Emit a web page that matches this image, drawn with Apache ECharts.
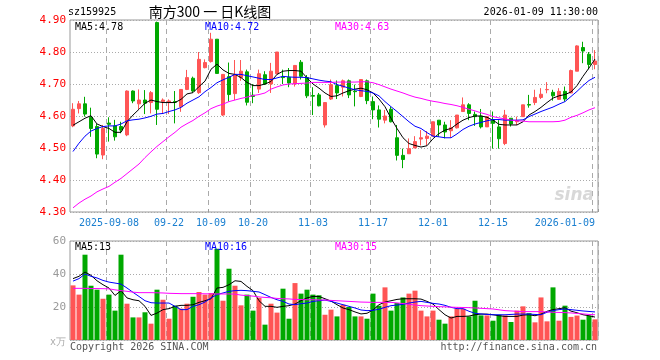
<!DOCTYPE html>
<html><head><meta charset="utf-8">
<script src="https://cdn.jsdelivr.net/npm/echarts/dist/echarts.min.js"></script>
<style>html,body{margin:0;padding:0;background:#fff}#c{width:660px;height:360px}</style>
</head><body><div id="c"></div><script>
const dates=['2025-08-29','2025-09-01','2025-09-02','2025-09-03','2025-09-04','2025-09-05','2025-09-08','2025-09-09','2025-09-10','2025-09-11','2025-09-12','2025-09-15','2025-09-16','2025-09-17','2025-09-18','2025-09-19','2025-09-22','2025-09-23','2025-09-24','2025-09-25','2025-09-26','2025-09-29','2025-09-30','2025-10-09','2025-10-10','2025-10-13','2025-10-14','2025-10-15','2025-10-16','2025-10-17','2025-10-20','2025-10-21','2025-10-22','2025-10-23','2025-10-24','2025-10-27','2025-10-28','2025-10-29','2025-10-30','2025-10-31','2025-11-03','2025-11-04','2025-11-05','2025-11-06','2025-11-07','2025-11-10','2025-11-11','2025-11-12','2025-11-13','2025-11-14','2025-11-17','2025-11-18','2025-11-19','2025-11-20','2025-11-21','2025-11-24','2025-11-25','2025-11-26','2025-11-27','2025-11-28','2025-12-01','2025-12-02','2025-12-03','2025-12-04','2025-12-05','2025-12-08','2025-12-09','2025-12-10','2025-12-11','2025-12-12','2025-12-15','2025-12-16','2025-12-17','2025-12-18','2025-12-19','2025-12-22','2025-12-23','2025-12-24','2025-12-25','2025-12-26','2025-12-29','2025-12-30','2025-12-31','2026-01-05','2026-01-06','2026-01-07','2026-01-08','2026-01-09'];
const labelDates=['2025-09-08','2025-09-22','2025-10-09','2025-10-20','2025-11-03','2025-11-17','2025-12-01','2025-12-15','2026-01-09'];
const labelTexts=['2025-09-08','09-22','10-09','10-20','11-03','11-17','12-01','12-15','2026-01-09'];
const priceTicks=[4.30,4.40,4.50,4.60,4.70,4.80,4.90];
const opens=[4.569,4.623,4.638,4.596,4.567,4.478,4.578,4.569,4.567,4.541,4.678,4.638,4.650,4.642,4.892,4.645,4.642,4.645,4.629,4.683,4.718,4.673,4.751,4.770,4.840,4.603,4.723,4.670,4.720,4.738,4.665,4.684,4.729,4.700,4.732,4.722,4.721,4.700,4.768,4.720,4.664,4.666,4.572,4.653,4.695,4.690,4.710,4.678,4.661,4.710,4.645,4.619,4.587,4.621,4.532,4.477,4.482,4.500,4.528,4.530,4.537,4.587,4.572,4.554,4.563,4.614,4.635,4.605,4.600,4.566,4.587,4.566,4.514,4.593,4.582,4.598,4.636,4.642,4.658,4.682,4.674,4.652,4.677,4.672,4.740,4.814,4.793,4.761];
const closes=[4.621,4.638,4.606,4.561,4.481,4.561,4.574,4.535,4.556,4.678,4.647,4.650,4.640,4.673,4.621,4.650,4.647,4.643,4.683,4.720,4.678,4.777,4.767,4.840,4.733,4.730,4.667,4.730,4.740,4.643,4.661,4.732,4.700,4.740,4.800,4.720,4.703,4.758,4.724,4.663,4.662,4.632,4.642,4.698,4.672,4.710,4.666,4.676,4.714,4.648,4.619,4.590,4.600,4.582,4.477,4.464,4.498,4.520,4.532,4.537,4.582,4.572,4.550,4.563,4.603,4.635,4.608,4.598,4.566,4.598,4.577,4.529,4.603,4.575,4.585,4.635,4.634,4.658,4.668,4.683,4.663,4.677,4.653,4.742,4.819,4.803,4.761,4.772];
const lows=[4.565,4.608,4.598,4.535,4.468,4.465,4.520,4.523,4.546,4.537,4.640,4.621,4.606,4.608,4.572,4.608,4.606,4.577,4.613,4.681,4.673,4.669,4.749,4.767,4.733,4.600,4.645,4.650,4.710,4.633,4.640,4.672,4.697,4.672,4.730,4.700,4.690,4.692,4.714,4.656,4.603,4.630,4.564,4.650,4.653,4.661,4.656,4.630,4.659,4.637,4.590,4.564,4.577,4.580,4.461,4.437,4.482,4.500,4.508,4.508,4.537,4.535,4.530,4.532,4.561,4.614,4.587,4.569,4.561,4.566,4.498,4.498,4.509,4.567,4.572,4.598,4.626,4.634,4.653,4.671,4.648,4.651,4.645,4.672,4.740,4.765,4.746,4.746];
const highs=[4.640,4.647,4.660,4.626,4.575,4.572,4.596,4.588,4.582,4.680,4.680,4.683,4.681,4.678,4.895,4.655,4.652,4.678,4.683,4.744,4.723,4.800,4.777,4.860,4.840,4.723,4.767,4.775,4.775,4.745,4.700,4.745,4.740,4.766,4.800,4.745,4.750,4.758,4.775,4.728,4.690,4.672,4.642,4.714,4.711,4.714,4.714,4.698,4.714,4.714,4.661,4.633,4.619,4.629,4.572,4.498,4.530,4.537,4.556,4.553,4.582,4.587,4.582,4.587,4.603,4.658,4.640,4.614,4.622,4.600,4.614,4.587,4.619,4.593,4.598,4.635,4.666,4.682,4.687,4.706,4.682,4.687,4.692,4.745,4.821,4.832,4.800,4.806];
const ma5=[4.571,4.582,4.593,4.601,4.575,4.567,4.561,4.549,4.549,4.582,4.603,4.621,4.640,4.650,4.645,4.642,4.642,4.642,4.652,4.669,4.673,4.692,4.709,4.746,4.762,4.744,4.733,4.730,4.720,4.705,4.695,4.695,4.700,4.708,4.730,4.740,4.742,4.742,4.740,4.719,4.700,4.687,4.672,4.661,4.663,4.672,4.679,4.684,4.687,4.682,4.672,4.653,4.629,4.593,4.561,4.532,4.514,4.508,4.503,4.507,4.529,4.545,4.556,4.561,4.575,4.587,4.595,4.600,4.600,4.596,4.587,4.574,4.572,4.572,4.572,4.582,4.603,4.614,4.627,4.642,4.656,4.663,4.667,4.675,4.695,4.724,4.750,4.778];
const ma10=[4.489,4.515,4.537,4.553,4.561,4.567,4.569,4.569,4.575,4.585,4.588,4.590,4.594,4.599,4.606,4.608,4.614,4.619,4.627,4.640,4.650,4.660,4.676,4.689,4.704,4.713,4.721,4.730,4.730,4.726,4.722,4.718,4.714,4.714,4.719,4.724,4.722,4.721,4.721,4.720,4.716,4.712,4.709,4.707,4.698,4.693,4.687,4.682,4.679,4.677,4.672,4.663,4.645,4.629,4.614,4.598,4.582,4.568,4.561,4.548,4.537,4.535,4.532,4.532,4.544,4.558,4.568,4.575,4.580,4.585,4.589,4.589,4.587,4.587,4.587,4.588,4.598,4.606,4.614,4.621,4.628,4.637,4.645,4.661,4.677,4.695,4.711,4.721];
const ma30=[4.313,4.328,4.340,4.350,4.363,4.372,4.380,4.393,4.405,4.420,4.435,4.450,4.470,4.488,4.505,4.520,4.535,4.549,4.565,4.576,4.586,4.599,4.610,4.623,4.631,4.637,4.645,4.650,4.655,4.659,4.664,4.667,4.672,4.684,4.691,4.697,4.700,4.701,4.702,4.703,4.705,4.705,4.705,4.705,4.706,4.706,4.706,4.706,4.707,4.707,4.704,4.698,4.691,4.684,4.678,4.672,4.665,4.659,4.655,4.650,4.646,4.643,4.639,4.636,4.632,4.627,4.621,4.616,4.610,4.605,4.598,4.594,4.591,4.587,4.585,4.584,4.582,4.582,4.582,4.582,4.582,4.583,4.587,4.596,4.602,4.610,4.619,4.626];
const volumes=[33.1,27.5,51.7,32.9,30.5,25.0,27.5,17.8,51.7,22.0,13.7,13.7,16.8,9.9,30.5,24.4,12.9,20.8,19.0,22.0,26.2,29.1,27.5,28.5,55.3,23.8,43.2,32.9,21.0,27.5,17.8,25.5,9.3,22.0,16.6,31.1,12.9,34.5,28.1,30.5,27.5,27.1,15.3,18.4,14.3,21.4,20.0,14.3,14.3,12.9,28.1,20.8,31.9,17.8,22.4,25.8,28.1,29.9,17.8,14.3,17.8,12.3,9.9,14.3,19.0,19.0,14.3,23.8,14.9,14.9,11.7,15.3,14.9,10.9,17.8,20.4,16.3,10.7,25.8,11.3,31.9,11.7,20.8,14.0,14.8,12.3,14.7,12.5];
const vma5=[37.2,38.6,41.2,39.2,35.9,33.5,31.5,27.0,29.9,25.5,24.4,23.8,20.4,14.9,16.3,18.4,19.0,20.4,21.0,21.0,21.4,22.8,23.8,25.0,31.5,31.9,33.5,35.9,35.5,32.5,29.9,23.8,20.4,20.4,19.8,20.4,20.8,21.8,23.8,25.5,26.4,26.4,25.0,23.6,21.4,19.4,18.4,17.0,15.8,16.2,18.2,21.4,23.0,23.8,24.6,25.0,25.0,25.0,24.8,23.4,21.8,18.4,15.3,13.3,14.3,14.3,14.5,15.3,15.7,15.7,15.3,14.7,14.3,14.3,14.3,15.1,15.3,14.7,15.7,17.4,18.4,19.0,19.5,17.5,16.5,15.3,14.7,13.9];
const vma10=[35.7,37.2,40.0,38.6,37.6,36.1,35.1,34.5,33.9,31.5,28.9,26.4,23.8,22.6,22.4,22.4,22.4,20.4,18.4,18.4,20.4,21.4,23.0,25.5,27.5,28.5,29.5,29.9,30.1,29.9,29.5,29.1,27.5,25.8,24.4,23.4,21.8,21.4,22.0,22.4,23.4,23.8,24.2,23.4,22.4,21.4,20.4,19.4,18.2,17.8,18.0,18.6,19.8,20.8,21.2,21.6,22.4,23.0,23.4,22.8,22.2,21.8,21.0,19.8,19.0,19.0,17.4,16.2,15.8,15.5,15.3,15.3,15.3,15.5,15.7,15.7,15.7,15.5,15.3,16.8,17.8,18.4,18.8,18.4,18.0,17.6,17.3,17.0];
const vma30=[31.3,31.3,31.3,31.2,31.2,31.1,31.0,30.4,29.9,29.5,29.0,28.7,28.7,28.7,28.6,28.5,28.3,28.2,28.1,28.1,28.1,28.1,28.0,28.0,27.9,27.9,27.9,27.8,27.2,26.9,26.6,26.1,25.8,25.6,25.2,25.0,24.9,24.6,24.5,24.4,24.4,24.3,24.2,24.0,23.8,23.6,23.4,23.2,23.0,22.9,22.8,22.8,22.8,22.8,22.5,22.1,21.6,21.2,20.8,20.6,20.4,20.2,20.1,19.9,19.8,19.7,19.6,19.4,19.2,19.0,18.8,18.3,17.8,17.6,17.4,17.2,17.2,17.2,17.2,17.0,16.8,16.7,16.6,16.4,16.1,15.8,15.5,15.3];
const volTicks=[0,20,40,60];
const header={code:'sz159925',title:'南方300 一 日K线图',time:'2026-01-09 11:30:00'};
const maTexts=['MA5:4.78','MA10:4.72','MA30:4.63'];
const vmaTexts=['MA5:13','MA10:16','MA30:15'];

const RED='#ff5555', GREEN='#00a800';
const MONO='DejaVu Sans Mono';
const labelMap={}; labelDates.forEach((d,i)=>labelMap[d]=labelTexts[i]);
const isLabel=(i,v)=>labelMap[v]!==undefined;
const kdata=dates.map((d,i)=>[opens[i],closes[i],lows[i],highs[i]]);
const vdata=volumes.map((v,i)=>({value:v,itemStyle:{color:closes[i]>=opens[i]?RED:GREEN}}));

const chart=echarts.init(document.getElementById('c'),null,{renderer:'canvas'});
const splitX={show:true,interval:isLabel,lineStyle:{color:'#aaa',type:[5,4],width:1}};
const lineS=(name,data,color,xi,yi)=>({name,type:'line',data,xAxisIndex:xi,yAxisIndex:yi,symbol:'none',smooth:false,lineStyle:{color,width:1},z:5,silent:true});
const txt=(x,y,t,color,extra)=>({type:'text',x,y,style:Object.assign({text:t,fill:color,font:'10px "'+MONO+'"',textVerticalAlign:'middle'},extra||{}),z:100});
chart.setOption({
  animation:false,
  backgroundColor:'#fff',
  grid:[
    {left:70,top:20,width:528,height:192,show:true,borderColor:'#999',borderWidth:1,backgroundColor:'transparent'},
    {left:70,top:241,width:528,height:99,show:true,borderColor:'#999',borderWidth:1,backgroundColor:'transparent'}
  ],
  xAxis:[
    {type:'category',data:dates,gridIndex:0,boundaryGap:true,axisLine:{show:false},
     axisTick:{show:true,interval:isLabel,inside:true,length:3,lineStyle:{color:'#999'}},
     axisLabel:{show:true,interval:isLabel,formatter:v=>labelMap[v]||'',color:'#1a7fd0',fontFamily:MONO,fontSize:10,margin:6,alignMaxLabel:'right'},
     splitLine:splitX},
    {type:'category',data:dates,gridIndex:1,boundaryGap:true,axisLine:{show:false},axisTick:{show:false},axisLabel:{show:false},splitLine:splitX}
  ],
  yAxis:[
    {type:'value',gridIndex:0,min:priceTicks[0],max:priceTicks[priceTicks.length-1],interval:0.1,
     axisLine:{show:false},axisTick:{show:false},
     axisLabel:{color:'#ff0000',fontFamily:MONO,fontSize:11,margin:4,formatter:v=>v.toFixed(2)},
     splitLine:{show:true,lineStyle:{color:'#aaa',type:[1,2],width:1}}},
    {type:'value',gridIndex:1,min:volTicks[0],max:volTicks[volTicks.length-1],interval:20,
     axisLine:{show:false},axisTick:{show:false},
     axisLabel:{color:'#999',fontFamily:MONO,fontSize:11,margin:4,formatter:v=>v===0?'':String(v)},
     splitLine:{show:true,lineStyle:{color:'#aaa',type:[1,2],width:1}}}
  ],
  series:[
    {type:'candlestick',data:kdata,xAxisIndex:0,yAxisIndex:0,barWidth:4,silent:true,
     itemStyle:{color:RED,color0:GREEN,borderColor:RED,borderColor0:GREEN,borderWidth:1},z:3},
    lineS('MA5',ma5,'#000000',0,0),
    lineS('MA10',ma10,'#0000ff',0,0),
    lineS('MA30',ma30,'#ff00ff',0,0),
    {type:'bar',data:vdata,xAxisIndex:1,yAxisIndex:1,barWidth:5,silent:true,z:3},
    lineS('VMA5',vma5,'#000000',1,1),
    lineS('VMA10',vma10,'#0000ff',1,1),
    lineS('VMA30',vma30,'#ff00ff',1,1)
  ],
  graphic:[
    txt(68,12,header.code,'#000'),
    {type:'text',x:210,y:12,style:{text:header.title,fill:'#000',font:'14px "Noto Sans CJK SC"',textAlign:'center',textVerticalAlign:'middle'},z:100},
    txt(598,12,header.time,'#000',{textAlign:'right'}),
    txt(75,27,maTexts[0],'#000'),
    txt(205,27,maTexts[1],'#0000ff'),
    txt(335,27,maTexts[2],'#ff00ff'),
    txt(75,247,vmaTexts[0],'#000'),
    txt(205,247,vmaTexts[1],'#0000ff'),
    txt(335,247,vmaTexts[2],'#ff00ff'),
    txt(66,342,'x万','#aaa',{textAlign:'right'}),
    txt(70,347,'Copyright 2026 SINA.COM','#555'),
    txt(597,347,'http://finance.sina.com.cn','#555',{textAlign:'right'}),
    {type:'text',x:594,y:196,style:{text:'sina',fill:'rgba(190,190,190,0.6)',font:'italic bold 17px "DejaVu Sans"',textAlign:'right',textVerticalAlign:'middle'},z:1}
  ]
});
</script></body></html>
